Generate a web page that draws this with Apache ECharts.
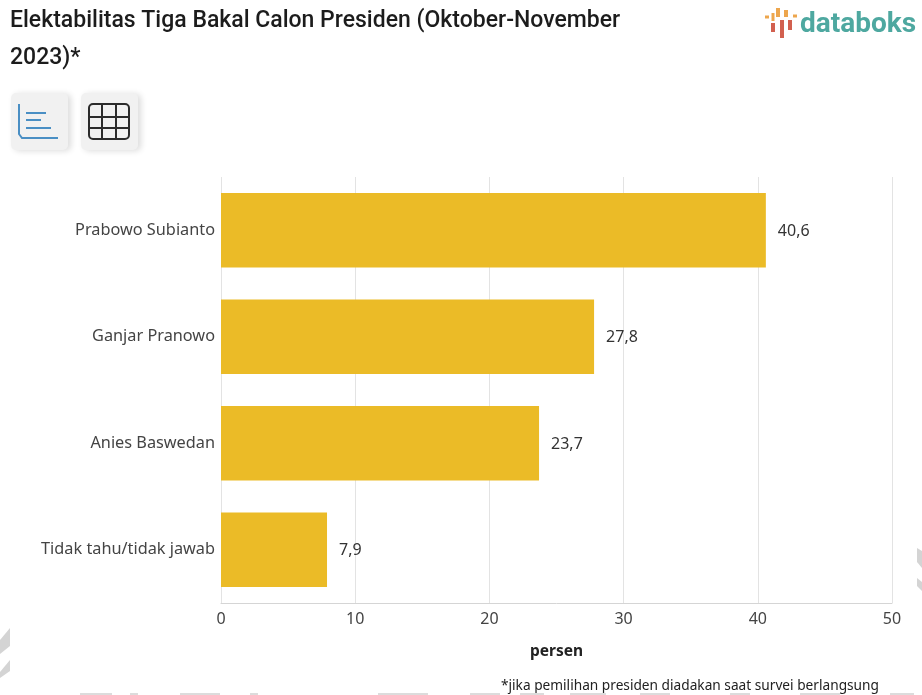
<!DOCTYPE html>
<html>
<head>
<meta charset="utf-8">
<title>Elektabilitas Tiga Bakal Calon Presiden</title>
<script src="https://cdn.jsdelivr.net/npm/echarts@6/dist/echarts.min.js"></script>
<style>
html, body { margin: 0; padding: 0; background: #fff; }
#chart { width: 922px; height: 695px; }
</style>
</head>
<body>
<div id="chart"></div>
<script>
const categories = ['Prabowo Subianto', 'Ganjar Pranowo', 'Anies Baswedan', 'Tidak tahu/tidak jawab']
const values = [40.6, 27.8, 23.7, 7.9]
const xTicks = [0, 10, 20, 30, 40, 50]
const titleText = 'Elektabilitas Tiga Bakal Calon Presiden (Oktober-November\n2023)*'
const axisName = 'persen'
const footnote = '*jika pemilihan presiden diadakan saat survei berlangsung'

const labelFont = '"Noto Sans", "Open Sans", sans-serif'
const gridLine = '#e3e3e3'

const chart = echarts.init(document.getElementById('chart'), null, { renderer: 'canvas' })

// tombol grafik / tabel di kiri atas
function button(x) {
  return {
    type: 'rect',
    shape: { x, y: 93, width: 57, height: 57, r: 5 },
    style: { fill: '#f1f1f1', shadowBlur: 6, shadowColor: 'rgba(0,0,0,0.14)', shadowOffsetX: 3, shadowOffsetY: 1 },
  }
}
function stroke(x1, y1, x2, y2, color, width) {
  return {
    type: 'line',
    shape: { x1, y1, x2, y2 },
    style: { stroke: color, lineWidth: width },
  }
}
// sisa watermark di tepi gambar
function patch(points) {
  return { type: 'polygon', shape: { points }, style: { fill: '#d4d4d4' } }
}
function sliver(x, width) {
  return { type: 'rect', shape: { x, y: 693, width, height: 2 }, style: { fill: '#dcdcdc' } }
}

const blue = '#4a8fc4'
const dark = '#2b2b2b'
const red = '#d2604f'
const orange = '#eda64d'

const chrome = [
  button(11),
  button(81),
  { type: 'polyline', shape: { points: [[19, 104], [19, 134], [22, 138], [58, 138]] }, style: { stroke: blue, lineWidth: 2, fill: null } },
  stroke(26, 113, 46, 113, blue, 2),
  stroke(26, 120, 41, 120, blue, 2),
  stroke(26, 128, 51, 128, blue, 2),
  { type: 'rect', shape: { x: 89, y: 104, width: 40, height: 35, r: 4 }, style: { stroke: dark, lineWidth: 2, fill: null } },
  stroke(102, 104, 102, 139, dark, 2),
  stroke(116, 104, 116, 139, dark, 2),
  stroke(89, 117, 129, 117, dark, 2),
  stroke(89, 128, 129, 128, dark, 2),
  // logo databoks
  stroke(765, 17, 769, 17, orange, 3),
  stroke(773, 13, 773, 21, orange, 3),
  stroke(778, 8, 778, 17, orange, 4),
  stroke(786, 10, 786, 17, orange, 4),
  stroke(793, 16, 797, 16, orange, 3),
  stroke(773, 23, 773, 32, red, 4),
  stroke(782, 20, 782, 38, red, 4),
  stroke(790, 20, 790, 30, red, 4),
  {
    type: 'text', x: 800, y: 11,
    style: { text: 'databoks', font: 'bold 28px Roboto, sans-serif', fill: '#4ea8a0' },
  },
  {
    type: 'text', x: 501, y: 679,
    style: { text: footnote, font: '13.7px ' + labelFont, fill: '#222' },
  },
  patch([[10, 628], [10, 646], [0, 654], [0, 640]]),
  patch([[10, 660], [10, 671], [0, 678], [0, 672]]),
  patch([[917, 548], [922, 551], [922, 568], [917, 562]]),
  patch([[917, 578], [922, 582], [922, 591], [917, 586]]),
  sliver(80, 32), sliver(130, 8), sliver(180, 40), sliver(250, 8), sliver(378, 50),
  sliver(470, 30), sliver(520, 24), sliver(570, 36), sliver(640, 30), sliver(730, 20), sliver(800, 40), sliver(890, 24),
]

chart.setOption({
  animation: false,
  backgroundColor: '#fff',
  title: {
    text: titleText,
    left: 10,
    top: 3,
    padding: 0,
    textStyle: { fontFamily: 'Roboto', fontWeight: 500, fontSize: 23, lineHeight: 37, color: '#1c1c1c' },
  },
  grid: { left: 221, right: 30, top: 177, bottom: 92 },
  xAxis: {
    type: 'value',
    min: xTicks[0],
    max: xTicks[xTicks.length - 1],
    interval: 10,
    name: axisName,
    nameLocation: 'middle',
    nameGap: 41,
    nameTextStyle: { fontFamily: labelFont, fontSize: 15.5, fontWeight: 'bold', color: '#222' },
    axisLine: { show: true, lineStyle: { color: '#d5d5d5' } },
    axisTick: { show: false },
    axisLabel: { fontFamily: labelFont, fontSize: 16, color: '#444', margin: 8 },
    splitLine: { show: true, lineStyle: { color: gridLine, width: 1 } },
  },
  yAxis: {
    type: 'category',
    inverse: true,
    data: categories,
    axisLine: { show: false },
    axisTick: { show: false },
    axisLabel: { fontFamily: labelFont, fontSize: 16.3, color: '#444', margin: 6, padding: [2, 0, 0, 0] },
  },
  series: [
    {
      type: 'bar',
      data: values,
      barWidth: '70%',
      itemStyle: { color: '#ebbb27' },
      label: {
        show: true,
        position: 'right',
        distance: 12,
        offset: [0, 1],
        fontFamily: labelFont,
        fontSize: 16,
        color: '#333',
        formatter: p => String(p.value).replace('.', ','),
      },
    },
  ],
  graphic: chrome,
})
</script>
</body>
</html>
